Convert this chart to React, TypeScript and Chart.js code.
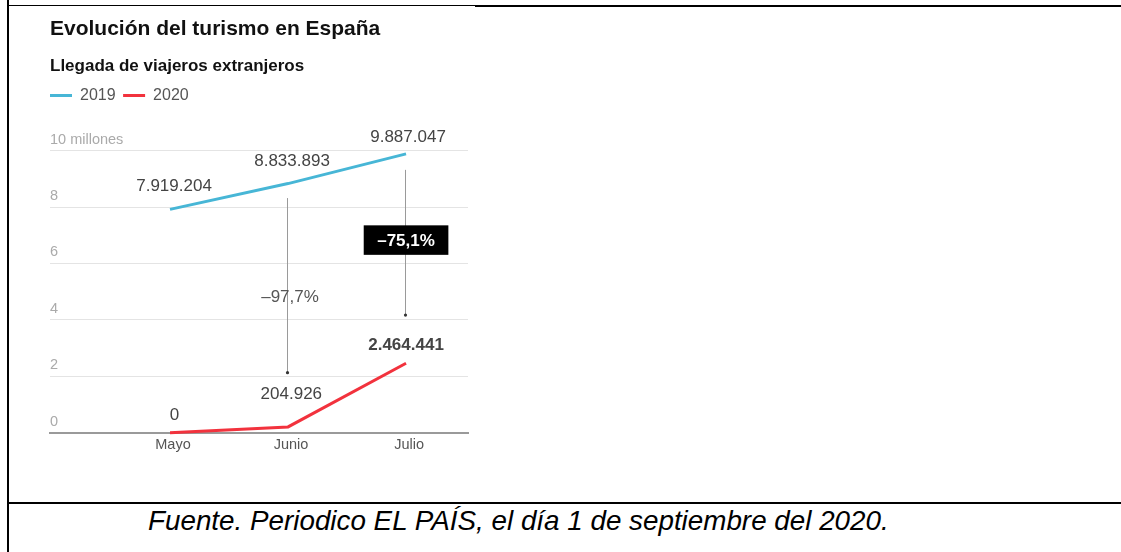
import React, { useEffect, useRef } from 'react';
import { Chart, registerables } from 'chart.js';

Chart.register(...registerables);

// ---- data ----
const months = ['Mayo', 'Junio', 'Julio'];
const viajeros2019 = [7919204, 8833893, 9887047];
const viajeros2020 = [0, 204926, 2464441];
const yTicks = [0, 2000000, 4000000, 6000000, 8000000, 10000000];
const seriesNames = ['2019', '2020'];
const changeLabels = ['', '–97,7%', '–75,1%'];

// ---- styling / layout ----
const FONT = '"Liberation Sans", Arial, Helvetica, sans-serif';
const seriesColors = ['#47b6d6', '#f2323d'];
// annotation geometry expressed in axis units (value axis)
const annot = {
  from: [null, 8320000, 9320000],
  to: [null, 2130000, 4170000],
  labelAt: [null, 4830000, 6830000],
  boxed: [false, false, true],
};
// label offsets in px relative to each point [dx, dy]
const labelOffsets = [
  [[4, -24], [4, -23], [2, -17]],
  [[4.5, -18], [3.3, -33], [0, -19]],
];

const fmt = (n: number) => String(n).replace(/\B(?=(\d{3})+(?!\d))/g, '.');

const legendShift = {
  id: 'legendShift',
  afterLayout(chart: any) {
    const lg = chart.legend;
    if (lg) {
      lg.left -= 7.5;
      lg.right -= 7.5;
    }
  },
};

const valueLabels = {
  id: 'valueLabels',
  afterDatasetsDraw(chart: any) {
    const ctx = chart.ctx;
    ctx.save();
    ctx.textAlign = 'center';
    ctx.textBaseline = 'middle';
    chart.data.datasets.forEach((ds: any, di: number) => {
      const meta = chart.getDatasetMeta(di);
      meta.data.forEach((pt: any, i: number) => {
        const raw = (di === 0 ? viajeros2019 : viajeros2020)[i];
        const bold = di === 1 && i === 2;
        ctx.font = `${bold ? 'bold ' : ''}17px ${FONT}`;
        ctx.fillStyle = '#444';
        const [dx, dy] = labelOffsets[di][i];
        ctx.fillText(fmt(raw), pt.x + dx, pt.y + dy + 0.8);
      });
    });
    ctx.restore();
  },
};

const changeAnnotations = {
  id: 'changeAnnotations',
  afterDatasetsDraw(chart: any) {
    const ctx = chart.ctx;
    const y = chart.scales.y;
    const meta = chart.getDatasetMeta(0);
    ctx.save();
    months.forEach((_, i) => {
      if (annot.from[i] == null) return;
      const x = Math.round(meta.data[i].x - 1) + 0.5;
      const y1 = y.getPixelForValue(annot.from[i]);
      const y2 = y.getPixelForValue(annot.to[i]);
      ctx.strokeStyle = '#9a9a9a';
      ctx.lineWidth = 1;
      ctx.beginPath();
      ctx.moveTo(x, y1);
      ctx.lineTo(x, y2);
      ctx.stroke();
      ctx.fillStyle = '#333';
      ctx.beginPath();
      ctx.arc(x, y2, 1.6, 0, Math.PI * 2);
      ctx.fill();

      const ly = y.getPixelForValue(annot.labelAt[i]);
      ctx.textAlign = 'center';
      ctx.textBaseline = 'middle';
      if (annot.boxed[i]) {
        ctx.font = `bold 17px ${FONT}`;
        const w = ctx.measureText(changeLabels[i]).width + 27;
        const h = 29.5;
        ctx.fillStyle = '#000';
        ctx.fillRect(meta.data[i].x - w / 2, ly - h / 2, w, h);
        ctx.fillStyle = '#fff';
        ctx.fillText(changeLabels[i], meta.data[i].x, ly + 0.8);
      } else {
        ctx.font = `17px ${FONT}`;
        ctx.fillStyle = '#555';
        ctx.fillText(changeLabels[i], meta.data[i].x + 2, ly + 0.8);
      }
    });
    ctx.restore();
  },
};

function TourismChart() {
  const ref = useRef<HTMLCanvasElement>(null);
  useEffect(() => {
    const canvas = ref.current!;
    const chart = new Chart(canvas, {
      type: 'line',
      data: {
        datasets: [viajeros2019, viajeros2020].map((arr, di) => ({
          label: seriesNames[di],
          data: arr.map((v, i) => ({ x: i, y: v })),
          borderColor: seriesColors[di],
          backgroundColor: seriesColors[di],
          borderWidth: 3,
          pointRadius: 0,
          pointHoverRadius: 0,
          tension: 0,
          clip: false as any,
        })),
      },
      options: {
        responsive: false,
        animation: false,
        devicePixelRatio: 1,
        events: [],
        layout: { padding: { left: 50, right: 12, top: 0, bottom: 11.9 } },
        plugins: {
          title: {
            display: true,
            text: 'Evolución del turismo en España',
            align: 'start',
            color: '#111',
            font: { family: FONT, size: 21, weight: 'bold', lineHeight: 1.2 },
            padding: { top: 16.4, bottom: 0 },
          },
          subtitle: {
            display: true,
            text: 'Llegada de viajeros extranjeros',
            align: 'start',
            color: '#111',
            font: { family: FONT, size: 17, weight: 'bold', lineHeight: 1.2 },
            padding: { top: 14.5, bottom: 3.5 },
          },
          legend: {
            display: true,
            position: 'top',
            align: 'start',
            labels: {
              boxWidth: 22,
              boxHeight: 3,
              padding: 7.5,
              color: '#555',
              font: { family: FONT, size: 16 },
              generateLabels: (ch: any) =>
                ch.data.datasets.map((ds: any, i: number) => ({
                  text: ds.label,
                  fillStyle: ds.borderColor,
                  strokeStyle: ds.borderColor,
                  lineWidth: 0,
                  hidden: false,
                  datasetIndex: i,
                  fontColor: '#555',
                })),
            },
          },
          tooltip: { enabled: false },
        },
        scales: {
          x: {
            type: 'linear',
            min: -1.017,
            max: 2.525,
            afterBuildTicks: (s: any) => {
              s.ticks = months.map((_, i) => ({ value: i }));
            },
            grid: { display: false, drawTicks: false },
            border: { display: true, color: '#9a9a9a', width: 2 },
            ticks: {
              callback: (v: any) => months[v] ?? '',
              color: '#555',
              font: { family: FONT, size: 14.5 },
              padding: 4,
              labelOffset: 3,
              maxRotation: 0,
              autoSkip: false,
            },
          },
          y: {
            type: 'linear',
            min: 0,
            max: 11319000,
            afterBuildTicks: (s: any) => {
              s.ticks = yTicks.map((v) => ({ value: v }));
            },
            grid: {
              color: (c: any) => (c.tick && c.tick.value === 0 ? '#9a9a9a' : '#e4e4e4'),
              drawTicks: false,
            },
            border: { display: false },
            ticks: {
              mirror: true,
              padding: 0,
              labelOffset: -11,
              color: '#aaa',
              font: { family: FONT, size: 14.5 },
              callback: (v: any) => (v === 10000000 ? '10 millones' : String(v / 1000000)),
            },
          },
        },
      } as any,
      plugins: [legendShift, valueLabels, changeAnnotations],
    });
    return () => chart.destroy();
  }, []);
  return (
    <canvas
      ref={ref}
      width={480}
      height={470}
      style={{ position: 'absolute', left: 0, top: 0, width: 480, height: 470 }}
    />
  );
}

export default function App() {
  const line = (l: number, t: number, w: number, h: number) => (
    <div style={{ position: 'absolute', left: l, top: t, width: w, height: h, background: '#000' }} />
  );
  return (
    <div
      style={{
        position: 'absolute',
        left: 0,
        top: 0,
        width: 1121,
        height: 552,
        overflow: 'hidden',
        background: '#fff',
      }}
    >
      {line(7, 0, 2, 552)}
      {line(8, 5, 467, 1)}
      {line(475, 5, 646, 2)}
      {line(9, 502, 1112, 2)}
      <TourismChart />
      <div
        style={{
          position: 'absolute',
          left: 148,
          top: 504.5,
          fontFamily: FONT,
          fontStyle: 'italic',
          fontSize: 27.8,
          lineHeight: '32px',
          color: '#000',
          whiteSpace: 'nowrap',
        }}
      >
        Fuente. Periodico EL PAÍS, el día 1 de septiembre del 2020.
      </div>
    </div>
  );
}
